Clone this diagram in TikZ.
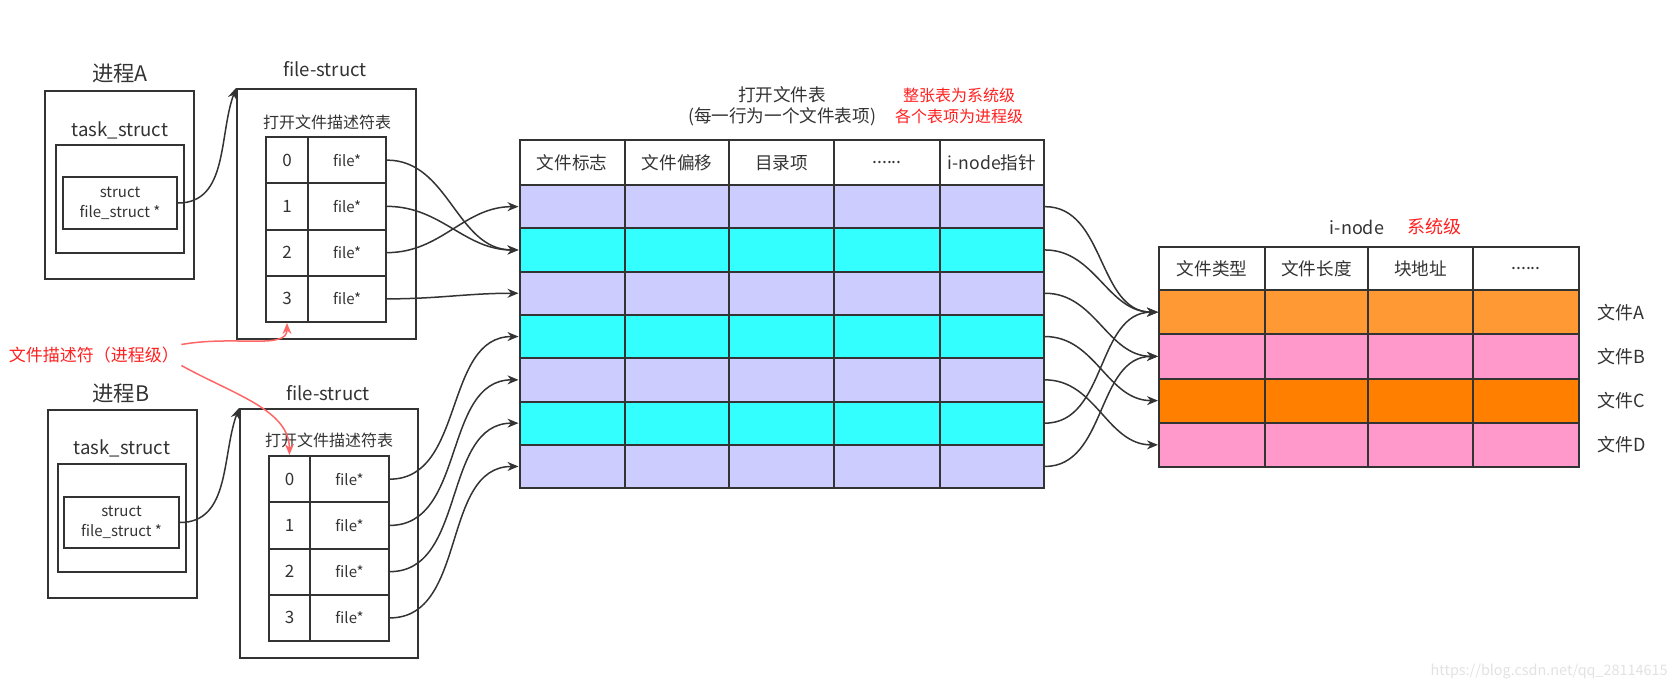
\documentclass[tikz,border=0pt]{standalone}
\usepackage{fontspec}
\setmainfont{Noto Sans CJK SC}
\usetikzlibrary{arrows.meta,fit}

\definecolor{ink}{HTML}{333333}
\definecolor{lav}{HTML}{CCCCFF}
\definecolor{aqua}{HTML}{33FFFF}
\definecolor{fileA}{HTML}{FF9933}
\definecolor{fileB}{HTML}{FF99CC}
\definecolor{fileC}{HTML}{FF8000}
\definecolor{warn}{HTML}{FF2020}
\definecolor{warnline}{HTML}{FF6666}
\definecolor{wmark}{HTML}{E2E2E2}

\newcommand{\sixdots}{......}

\tikzset{
  box/.style={draw=ink, line width=1pt, inner sep=0pt},
  bigtext/.style={text=ink, inner sep=1pt, font=\fontsize{10.7}{12}\selectfont},
  midtext/.style={text=ink, inner sep=1pt, font=\fontsize{9.3}{11}\selectfont},
  headtext/.style={text=ink, inner sep=1pt, font=\fontsize{8.8}{10.5}\selectfont},
  celltext/.style={text=ink, inner sep=1pt, font=\fontsize{8}{10}\selectfont},
  smalltext/.style={text=ink, inner sep=1pt, font=\fontsize{7.5}{10}\selectfont},
  digittext/.style={text=ink, inner sep=1pt, font=\fontsize{8.5}{10}\selectfont},
  redtext/.style={text=warn, inner sep=1pt, font=\fontsize{8}{10.5}\selectfont},
  link/.style={draw=ink, line width=0.75pt, -{Stealth[length=5.5pt,width=4.5pt]}},
  redlink/.style={draw=warnline, line width=0.75pt, -{Stealth[length=5.5pt,width=4.5pt]}},
}

\begin{document}
\begin{tikzpicture}[x=0.5pt,y=-0.5pt]
\useasboundingbox (0,0) rectangle (1678,691);

\node[bigtext] (nameA) at (120,73) {进程A};
\node[box, fit={(45,91) (194,279)}] (procA) {};
\node[midtext] (taskA) at (120,130) {task\_struct};
\node[box, fit={(56,145) (184,253)}] (tsA) {};
\node[box, fit={(63,177) (177,229)}] (ptrA) {};
\node[smalltext, align=center] (ptrtextA) at (ptrA) {struct\\file\_struct *};

\node[bigtext] (nameB) at (121,393) {进程B};
\node[box, fit={(48,410) (197,598)}] (procB) {};
\node[midtext] (taskB) at (122,448) {task\_struct};
\node[box, fit={(58,464) (186,572)}] (tsB) {};
\node[box, fit={(64,497) (179,548)}] (ptrB) {};
\node[smalltext, align=center] (ptrtextB) at (ptrB) {struct\\file\_struct *};

\node[midtext] (fsnameA) at (325,69) {file-struct};
\node[box, fit={(237,89) (416,339)}] (fsA) {};
\node[celltext] (fdtA) at (327,122) {打开文件描述符表};
\foreach \i [evaluate=\i as \t using 137+46.25*\i, evaluate=\i as \b using 183.25+46.25*\i] in {0,...,3} {
  \node[box, fit={(266,\t) (308,\b)}] (fdA\i) {};
  \node[box, fit={(308,\t) (386,\b)}] (fpA\i) {};
  \node[digittext] (numA\i) at (fdA\i) {\i};
  \node[smalltext] (ptrcellA\i) at (fpA\i) {file*};
}

\node[midtext] (fsnameB) at (328,393) {file-struct};
\node[box, fit={(240,409) (418,658)}] (fsB) {};
\node[celltext] (fdtB) at (329,440) {打开文件描述符表};
\foreach \i [evaluate=\i as \t using 456+46.25*\i, evaluate=\i as \b using 502.25+46.25*\i] in {0,...,3} {
  \node[box, fit={(269,\t) (310,\b)}] (fdB\i) {};
  \node[box, fit={(310,\t) (389,\b)}] (fpB\i) {};
  \node[digittext] (numB\i) at (fdB\i) {\i};
  \node[smalltext] (ptrcellB\i) at (fpB\i) {file*};
}

\node[redtext, font=\fontsize{8.5}{10}\selectfont] (fdnote) at (94,355) {文件描述符（进程级）};

\node[headtext, align=center] (tabtitle) at (782,106.5) {打开文件表\\(每一行为一个文件表项)};
\node[redtext, align=center] (tablevel) at (959,105.5) {整张表为系统级\\各个表项为进程级};
\node[box, fit={(519.5,140) (1044,185)}] (head) {};
\foreach \x/\s [count=\k] in {572/文件标志, 677/文件偏移, 781.5/目录项, 887/\sixdots, 992/i-node指针}
  \node[headtext] (h\k) at (\x,163) {\s};
\foreach \i/\c [evaluate=\i as \t using 185+43.3*(\i-1), evaluate=\i as \b using 185+43.3*\i] in {1/lav,2/aqua,3/lav,4/aqua,5/lav,6/aqua,7/lav}
  \node[box, fill=\c, fit={(519.5,\t) (1044,\b)}] (row\i) {};
\foreach \x in {625,729,834,940}
  \draw[ink, line width=1pt] (\x,140) -- (\x,488);

\node[headtext, font=\fontsize{9}{11}\selectfont] (inodename) at (1357,227) {i-node};
\node[redtext, font=\fontsize{9}{11}\selectfont] (inodelevel) at (1434,227) {系统级};
\node[box, fit={(1159,247) (1579,290)}] (ihead) {};
\foreach \x/\s [count=\k] in {1212/文件类型, 1316.5/文件长度, 1420.5/块地址, 1526/\sixdots}
  \node[headtext] (ih\k) at (\x,269) {\s};
\foreach \i/\c/\n [evaluate=\i as \t using 290+44.25*(\i-1), evaluate=\i as \b using 290+44.25*\i, evaluate=\i as \m using 312.1+44.25*(\i-1)] in {1/fileA/A,2/fileB/B,3/fileC/C,4/fileB/D} {
  \node[box, fill=\c, fit={(1159,\t) (1579,\b)}] (ino\n) {};
  \node[headtext, font=\fontsize{9}{11}\selectfont, anchor=west] (fname\n) at (1595,\m) {文件\n};
}
\foreach \x in {1265,1368,1473}
  \draw[ink, line width=1pt] (\x,247) -- (\x,467);

\draw[link] (ptrA.east) to[out=0,in=250] (fsA.north west);
\draw[link] (ptrB.east) to[out=0,in=250] (fsB.north west);
\foreach \a/\b in {0/2,1/2,2/1,3/3}
  \draw[link] (fpA\a.east) to[out=0,in=180] (row\b.west);
\foreach \a/\b in {0/4,1/5,2/6,3/7}
  \draw[link] (fpB\a.east) to[out=0,in=180] (row\b.west);
\foreach \a/\b in {1/A,2/A,3/B,4/C,5/D,6/A,7/B}
  \draw[link] (row\a.east) to[out=0,in=180] (ino\b.west);

\draw[redlink] (fdnote.north east) .. controls (235,335) and (287,350) .. (fdA3.south);
\draw[redlink] (fdnote.south east) .. controls (235,395) and (289,410) .. (fdB0.north);

\node[text=wmark, inner sep=0pt, font=\fontsize{7.2}{8}\selectfont, anchor=east] (wm) at (1668,672) {https://blog.csdn.net/qq\_28114615};
\end{tikzpicture}
\end{document}
